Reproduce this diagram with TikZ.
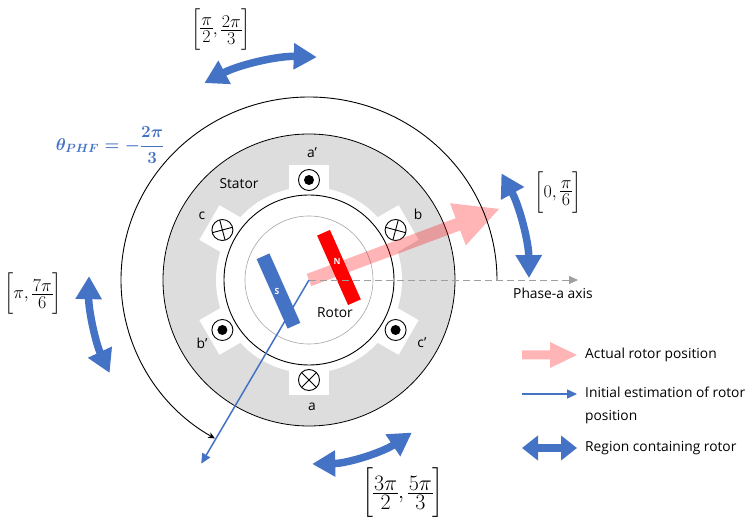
\RequirePackage{fix-cm}
\documentclass[tikz,border=0pt]{standalone}
\usepackage{fontspec}
\setmainfont{Open Sans}
\usepackage{amsmath}
\usetikzlibrary{arrows.meta}
\definecolor{ablue}{HTML}{4472C4}
\definecolor{sgray}{HTML}{DDDDDD}
\newcommand{\mfr}[2]{\mathord{\vcenter{\offinterlineskip\halign{\hfil\kern1pt##\kern1pt\hfil\cr$\displaystyle#1$\cr\noalign{\kern2.5pt\hrule height0.6pt\kern2.5pt}$\displaystyle#2$\cr}}}}
\begin{document}
\begin{tikzpicture}[x=1pt,y=1pt,
  lbl/.style={font=\fontsize{13.8}{16}\selectfont, inner sep=0pt},
  mlbl/.style={font=\fontsize{18}{20}\selectfont, inner sep=0pt},
  region/.style={draw=ablue, line width=7.5pt, {Triangle[length=23pt,width=25pt]}-{Triangle[length=23pt,width=25pt]}},
  slotsym/.style={draw=black, line width=0.9pt},
  magnet/.style={minimum width=14pt, minimum height=76pt, inner sep=0pt, rotate=24},
  magtxt/.style={text=white, font=\bfseries\fontsize{8.5}{9}\selectfont, inner sep=0pt},
  pinkfill/.style={fill=red, opacity=0.29},
]
\useasboundingbox (-309,-244) rectangle (446,280);
\coordinate (O) at (0,0);
% stator
\fill[sgray, draw=black, line width=0.8pt] (O) circle (146);
\fill[white] (O) circle (93);
\foreach \a in {90,30,-30,-90,150,210}
  \fill[white, rotate=\a] (80,-20) -- (115,-20) -- (115,20) -- (80,20) -- cycle;
\draw[line width=0.9pt] (O) circle (85);
\draw[gray!70, line width=0.6pt] (O) circle (64);
% slot symbols
\foreach \a in {90,210,330} {
  \draw[slotsym, fill=white] (\a:100) circle (10.5);
  \fill (\a:100) circle (5);
}
\foreach \a in {270,30,150} {
  \draw[slotsym, fill=white] (\a:100) circle (10.5);
  \begin{scope}[shift={(\a:100)}, rotate=\a-225]
    \draw[slotsym] (-10.5,0) -- (10.5,0) (0,-10.5) -- (0,10.5);
  \end{scope}
}
% actual rotor position (pink)
\begin{scope}[rotate=20.5]
  \fill[pinkfill] (0,-6.5) -- (159,-6.5) -- (159,-22.5) -- (203,0) -- (159,22.5) -- (159,6.5) -- (0,6.5) -- cycle;
\end{scope}
% magnets
\node[magnet, fill=red] (magN) at (30,12.5) {};
\node[magnet, fill=ablue] (magS) at (-30.5,-11) {};
\node[magtxt] (tN) at (28,19) {N};
\node[magtxt] (tS) at (-32,-11) {S};
% phase-a axis
\coordinate (axend) at (269,0);
\draw[gray!75, line width=0.9pt, dash pattern=on 7pt off 4pt, -{Triangle[length=9pt,width=8pt]}] (O) -- (axend);
\node[lbl, anchor=west] (axlbl) at (204,-13) {Phase-a axis};
% big theta arc
\draw[line width=0.9pt, -{Stealth[length=7pt,width=6pt]}] (188,0) arc[start angle=0,end angle=240,x radius=188,y radius=183];
% initial estimation
\coordinate (est) at (239.6:213);
\draw[ablue, line width=1.5pt, -{Triangle[length=10pt,width=9pt]}] (O) -- (est);
% labels
\node[lbl] (stator) at (-70,96) {Stator};
\node[lbl] (rotor) at (26,-33) {Rotor};
\node[lbl] (la1) at (3,127) {a’};
\node[lbl] (lb) at (109,66) {b};
\node[lbl] (lc) at (-107,64) {c};
\node[lbl] (lb1) at (-107,-63) {b’};
\node[lbl] (lc1) at (113,-63) {c’};
\node[lbl] (la) at (3,-127) {a};
% theta label
\node[text=ablue, font=\boldmath\fontsize{17}{20}\selectfont, inner sep=0pt] (th) at (-199,135) {$\theta_{PHF}=-\dfrac{2\pi}{3}$};
% region arrows
\draw[region] (118:223) arc[start angle=118, end angle=88, radius=223];
\draw[region] (29:220) arc[start angle=29, end angle=0.5, radius=220];
\draw[region] (179:220) arc[start angle=179, end angle=205, radius=220];
\draw[region] (271:184) arc[start angle=271, end angle=304, radius=184];
% region labels
\node[mlbl] (r1) at (-88,250) {$\bigg[\mfr{\pi}{2},\mfr{2\pi}{3}\bigg]$};
\node[mlbl] (r2) at (249,87) {$\bigg[0,\mfr{\pi}{6}\bigg]$};
\node[mlbl] (r3) at (-276,-14) {$\bigg[\pi,\mfr{7\pi}{6}\bigg]$};
\node[mlbl, font=\fontsize{22}{24.5}\selectfont] (r4) at (94,-213) {$\bigg[\mfr{3\pi}{2},\mfr{5\pi}{3}\bigg]$};
% legend
\fill[pinkfill] (213,-79.5) -- (241,-79.5) -- (241,-88) -- (268,-75) -- (241,-62) -- (241,-70.5) -- (213,-70.5) -- cycle;
\node[lbl, anchor=west] (leg1) at (276,-75) {Actual rotor position};
\coordinate (lb1s) at (213,-114);
\coordinate (lb1e) at (268,-114);
\draw[ablue, line width=1.5pt, -{Triangle[length=10pt,width=9pt]}] (lb1s) -- (lb1e);
\node[lbl, anchor=west, align=left, font=\fontsize{13.8}{23}\selectfont] (leg2) at (276,-125.5) {Initial estimation of rotor\\position};
\coordinate (lb2s) at (213,-168);
\coordinate (lb2e) at (268,-168);
\draw[ablue, line width=8pt, {Triangle[length=16pt,width=24pt]}-{Triangle[length=16pt,width=24pt]}] (lb2s) -- (lb2e);
\node[lbl, anchor=west] (leg3) at (276,-168) {Region containing rotor};
\end{tikzpicture}
\end{document}
